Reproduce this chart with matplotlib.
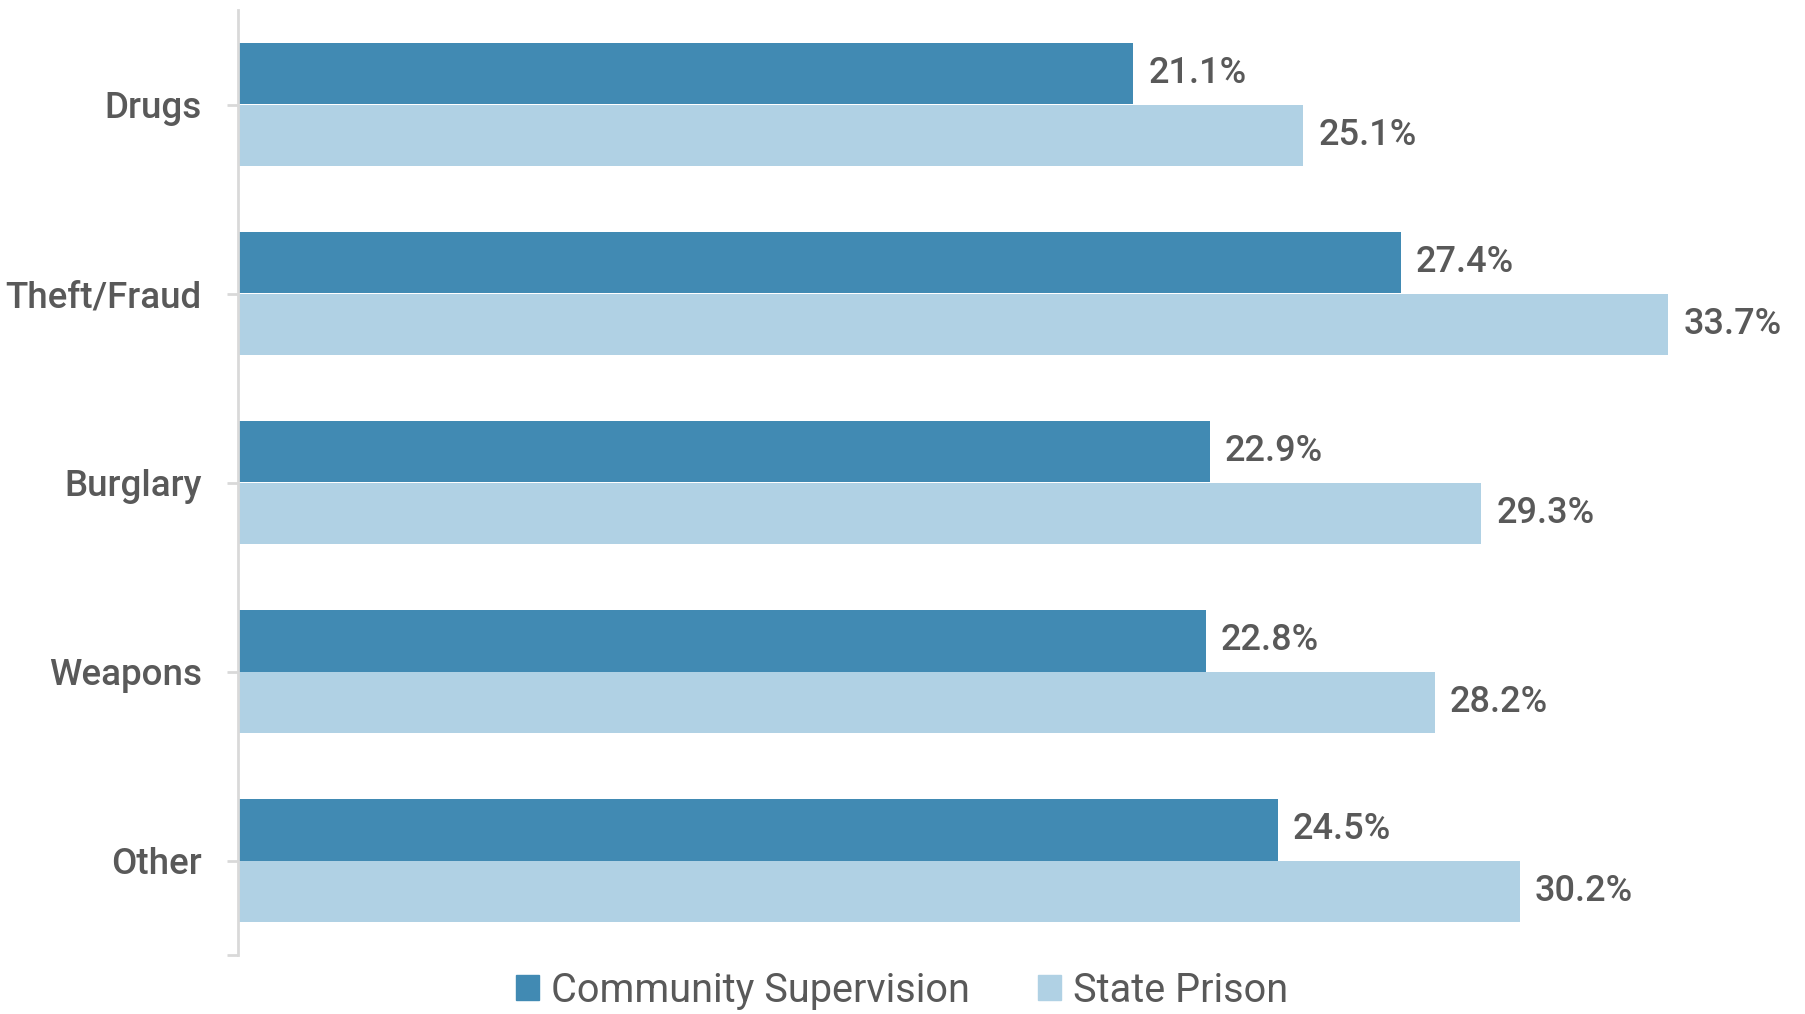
import numpy as np
import matplotlib
matplotlib.use("Agg")
import matplotlib.pyplot as plt
from matplotlib.patches import Patch

plt.rcParams['font.family'] = ['Roboto', 'DejaVu Sans']

# offense categories, top to bottom
categories = ['Drugs', 'Theft/Fraud', 'Burglary', 'Weapons', 'Other']
community = [21.1, 27.4, 22.9, 22.8, 24.5]
prison = [25.1, 33.7, 29.3, 28.2, 30.2]
series_names = ['Community Supervision', 'State Prison']

dark = '#418ab3'
light = '#b0d1e4'
text_col = '#595959'
grid_col = '#d9d9d9'

fig = plt.figure(figsize=(18.06, 10.14), dpi=100)
ax = fig.add_axes([238 / 1806, 59 / 1014, 1 - 238 / 1806, 945 / 1014])

y = np.arange(len(categories))
h = 0.323
b1 = ax.barh(y - h / 2, community, height=h, color=dark)
b2 = ax.barh(y + h / 2, prison, height=h, color=light)

for bars, vals in ((b1, community), (b2, prison)):
    for bar, v in zip(bars, vals):
        ax.annotate(f'{v:.1f}%', (v, bar.get_y() + bar.get_height() / 2),
                    xytext=(11, 0), textcoords='offset points',
                    va='center', ha='left', fontsize=26, fontweight='medium',
                    color=text_col)

ax.set_xlim(0, 36.95)
ax.set_ylim(4.5, -0.5)

ax.set_yticks(list(y) + [4.5])
ax.set_yticklabels(categories + [''], fontsize=26.5, fontweight='medium', color=text_col)
ax.tick_params(axis='y', length=8, width=2, color=grid_col, pad=18)
ax.set_xticks([])

for s in ('top', 'right', 'bottom'):
    ax.spines[s].set_visible(False)
ax.spines['left'].set_color(grid_col)
ax.spines['left'].set_linewidth(2)

handles = [Patch(color=dark), Patch(color=light)]
fig.legend(handles, series_names, loc='center', bbox_to_anchor=(902 / 1806, 1 - 990 / 1014),
           ncol=2, frameon=False, handlelength=0.6, handleheight=0.6,
           handletextpad=0.3, columnspacing=1.7, labelcolor=text_col,
           prop={'size': 28.5})

fig.savefig('out.png', dpi=100)
